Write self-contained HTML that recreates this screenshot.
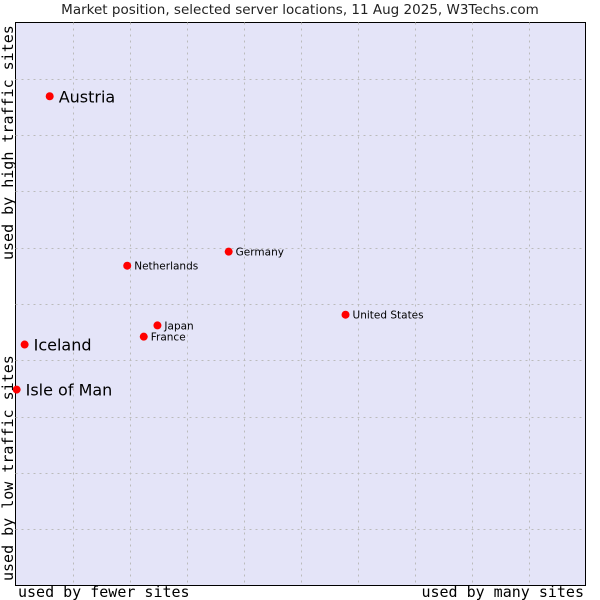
<!DOCTYPE html>
<html><head><meta charset="utf-8"><style>
body{margin:0;background:#fff;}
svg{display:block;}
</style></head><body>
<svg id="chart" width="600" height="600" xmlns="http://www.w3.org/2000/svg">
<text x="300" y="14" text-anchor="middle" font-family="DejaVu Sans, sans-serif" font-size="13.5" fill="#222">Market position, selected server locations, 11 Aug 2025, W3Techs.com</text>
<rect x="15.5" y="22.5" width="570" height="563" fill="#e4e4f8" stroke="#000" stroke-width="1"/>
<g id="grid"></g>
<g id="points"></g>
<text transform="translate(13,581) rotate(-90)" font-family="DejaVu Sans Mono, Liberation Mono, monospace" font-size="15" fill="#000">used by low traffic sites</text>
<text transform="translate(13,260) rotate(-90)" font-family="DejaVu Sans Mono, Liberation Mono, monospace" font-size="15" fill="#000">used by high traffic sites</text>
<text x="18" y="597" font-family="DejaVu Sans Mono, Liberation Mono, monospace" font-size="15" fill="#000">used by fewer sites</text>
<text x="584" y="597" text-anchor="end" font-family="DejaVu Sans Mono, Liberation Mono, monospace" font-size="15" fill="#000">used by many sites</text>
</svg>
<script>
const names = ["Austria","Iceland","Isle of Man","Netherlands","Germany","United States","Japan","France"];
const xValues = [6.0,1.6,0.2,19.6,37.4,57.9,24.9,22.5];
const yValues = [86.9,42.8,34.8,56.8,59.3,48.1,46.2,44.2];
const bigLabel = [true,true,true,false,false,false,false,false];
const gridTicks = [1,2,3,4,5,6,7,8,9];
const NS="http://www.w3.org/2000/svg";
const X0=15.5,X1=585.5,Y0=585.5,Y1=22.5;
const sx=v=>X0+(X1-X0)*v/100;
const sy=v=>Y0-(Y0-Y1)*v/100;
const grid=document.getElementById('grid');
gridTicks.forEach(t=>{
  const v=document.createElementNS(NS,'line');
  const gx=Math.round(sx(t*10))+0.5;
  v.setAttribute('x1',gx);v.setAttribute('x2',gx);v.setAttribute('y1',Y1);v.setAttribute('y2',Y0);
  v.setAttribute('stroke','#bbbbbb');v.setAttribute('stroke-dasharray','2,4');
  
  
  grid.appendChild(v);
  const h=document.createElementNS(NS,'line');
  const gy=Math.round(sy(t*10))+0.5;
  h.setAttribute('x1',X0);h.setAttribute('x2',X1);h.setAttribute('y1',gy);h.setAttribute('y2',gy);
  h.setAttribute('stroke','#bbbbbb');h.setAttribute('stroke-dasharray','2,4');
  
  
  grid.appendChild(h);
});
const pts=document.getElementById('points');
names.forEach((n,i)=>{
  const cx=sx(xValues[i]),cy=sy(yValues[i]);
  const c=document.createElementNS(NS,'circle');
  c.setAttribute('cx',cx);c.setAttribute('cy',cy);c.setAttribute('r',4);c.setAttribute('fill','#ff0000');
  
  
  pts.appendChild(c);
  const t=document.createElementNS(NS,'text');
  t.setAttribute('x',cx+(bigLabel[i]?9:7));
  t.setAttribute('y',cy+(bigLabel[i]?6:4));
  t.setAttribute('font-family','DejaVu Sans, sans-serif');
  t.setAttribute('font-size',bigLabel[i]?16:10.5);
  t.setAttribute('fill','#000');
  t.textContent=n;
  
  
  pts.appendChild(t);
});
</script>
</body></html>
